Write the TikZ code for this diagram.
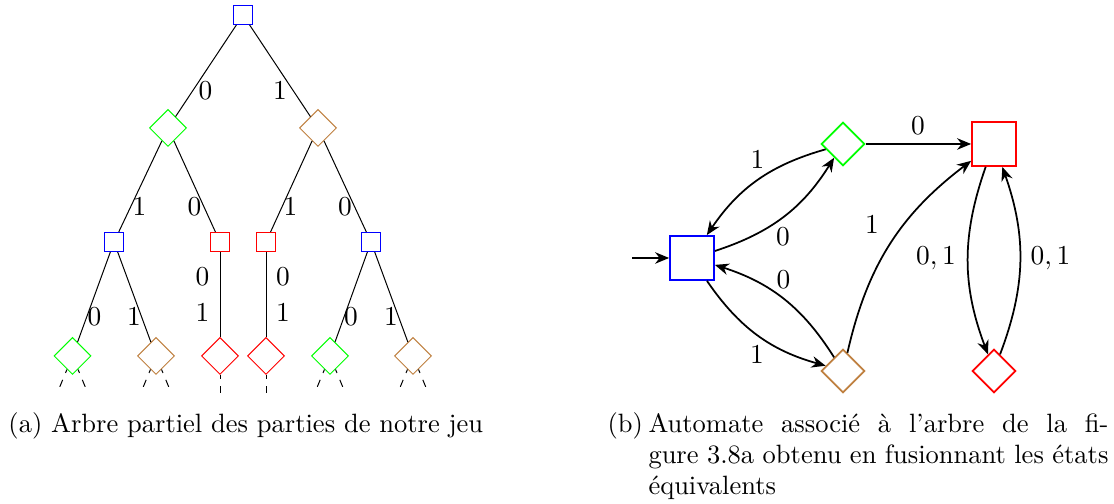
\documentclass[tikz,border=0pt]{standalone}
\usepackage{fontspec}
\usetikzlibrary{shapes.geometric,arrows.meta}
\begin{document}
\begin{tikzpicture}[x=0.4pt,y=0.4pt,
  tsq/.style={rectangle,draw,line width=0.4pt,minimum size=7.6pt,inner sep=0pt},
  tdm/.style={diamond,draw,line width=0.4pt,minimum size=14.8pt,inner sep=0pt},
  asq/.style={rectangle,draw,line width=0.7pt,minimum size=17.6pt,inner sep=0pt},
  adm/.style={diamond,draw,line width=0.7pt,minimum size=17.4pt,inner sep=0pt},
  lbl/.style={font=\fontsize{11}{13}\selectfont,inner sep=0pt},
  captxt/.style={font=\fontsize{10.6}{12.4}\selectfont,inner sep=0pt},
  tedge/.style={line width=0.4pt},
  stub/.style={line width=0.4pt,dashed,dash phase=1.5pt},
  aedge/.style={line width=0.7pt,-{Stealth[length=5.6pt,width=4.6pt,inset=1.8pt]}}]
\useasboundingbox (0,0) rectangle (1114,504);

% ---------- partial game tree ----------
\node[tsq,blue] (r) at (243,489) {};
\node[tdm,green] (g1) at (168,376) {};
\node[tdm,brown] (b1) at (318,376) {};
\node[tsq,blue] (s1) at (114,262) {};
\node[tsq,red]  (s2) at (220,262) {};
\node[tsq,red]  (s3) at (266,262) {};
\node[tsq,blue] (s4) at (371,262) {};
\node[tdm,green] (d1) at (72.5,148) {};
\node[tdm,brown] (d2) at (156,148) {};
\node[tdm,red]   (d3) at (220,148) {};
\node[tdm,red]   (d4) at (266,148) {};
\node[tdm,green] (d5) at (330,148) {};
\node[tdm,brown] (d6) at (413,148) {};

\draw[tedge] (r) -- (g1);
\draw[tedge] (r) -- (b1);
\draw[tedge] (g1) -- (s1);
\draw[tedge] (g1) -- (s2);
\draw[tedge] (b1) -- (s3);
\draw[tedge] (b1) -- (s4);
\draw[tedge] (s1) -- (d1);
\draw[tedge] (s1) -- (d2);
\draw[tedge] (s2) -- (d3);
\draw[tedge] (s3) -- (d4);
\draw[tedge] (s4) -- (d5);
\draw[tedge] (s4) -- (d6);

\node[lbl] (lr0) at (205.5,413) {$0$};
\node[lbl] (lr1) at (280,413) {$1$};
\node[lbl] (lg1) at (139.5,297) {$1$};
\node[lbl] (lg0) at (194.5,297) {$0$};
\node[lbl] (lb1) at (290.5,297) {$1$};
\node[lbl] (lb0) at (345,297) {$0$};
\node[lbl] (ls10) at (94.5,187) {$0$};
\node[lbl] (ls11) at (134,187) {$1$};
\node[lbl] (ls20) at (202.5,227) {$0$};
\node[lbl] (ls21) at (202.5,191) {$1$};
\node[lbl] (ls30) at (283,227) {$0$};
\node[lbl] (ls31) at (283,191) {$1$};
\node[lbl] (ls40) at (351,187) {$0$};
\node[lbl] (ls41) at (391,187) {$1$};

% unexplored continuations below the leaves
\foreach \n/\x in {d1/72.5,d2/156,d5/330,d6/413}{
  \coordinate (\n l) at (\x-14,114);
  \coordinate (\n r) at (\x+14,114);
  \draw[stub] (\n) -- (\n l);
  \draw[stub] (\n) -- (\n r);
}
\coordinate (d3b) at (220,111);
\coordinate (d4b) at (266,111);
\draw[stub] (d3) -- (d3b);
\draw[stub] (d4) -- (d4b);

% ---------- automaton ----------
\node[asq,blue]  (A) at (692,246) {};
\node[adm,green] (G) at (843,360) {};
\node[asq,red]   (R) at (994,360) {};
\node[adm,brown] (B) at (843,133) {};
\node[adm,red]   (D) at (994,133) {};
\coordinate (init) at (632,246);

\draw[aedge] (init) -- (A);
\draw[aedge] (A) to[bend right=20] (G);
\draw[aedge] (G) to[bend right=20] (A);
\draw[aedge] (A) to[bend right=20] (B);
\draw[aedge] (B) to[bend right=20] (A);
\draw[aedge] (G) -- (R);
\draw[aedge] (B) to[bend left=20] (R);
\draw[aedge] (R) to[bend right=20] (D);
\draw[aedge] (D) to[bend right=20] (R);

\node[lbl] (eAG) at (783,267) {$0$};
\node[lbl] (eGA) at (757.5,344) {$1$};
\node[lbl] (eBA) at (783.5,224) {$0$};
\node[lbl] (eAB) at (757,149) {$1$};
\node[lbl] (eGR) at (918,378.5) {$0$};
\node[lbl] (eBR) at (872,279) {$1$};
\node[lbl] (eRD) at (936,246) {$0,1$};
\node[lbl] (eDR) at (1050.5,246) {$0,1$};

% ---------- captions ----------
\node[captxt,anchor=base west] (capa) at (8,71) {(a) Arbre partiel des parties de notre jeu};
\node[captxt,anchor=base west] (capbl) at (607,71) {(b)};
\node[captxt,anchor=base west] (capb) at (648,71) {\parbox[t]{184pt}{\fontsize{10.6}{12.4}\selectfont
  Automate associé à l'arbre de la fi-\linebreak gure 3.8a obtenu en fusionnant les états\linebreak équivalents}};
\end{tikzpicture}
\end{document}
